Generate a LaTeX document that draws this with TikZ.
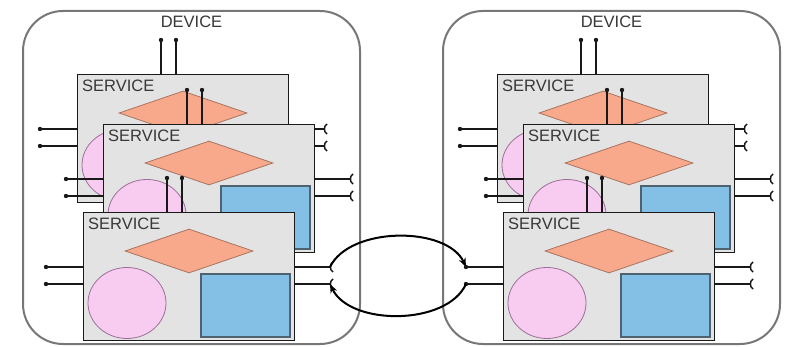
\documentclass[tikz,border=0pt]{standalone}
\usepackage{fontspec}
\setmainfont{Liberation Sans}
\usetikzlibrary{shapes.geometric,arrows.meta}

\definecolor{devline}{HTML}{777777}
\definecolor{txt}{HTML}{383838}
\definecolor{svcfill}{HTML}{E3E3E3}
\definecolor{svcline}{HTML}{1A1A1A}
\definecolor{rhombfill}{HTML}{F9A98B}
\definecolor{rhombline}{HTML}{A87460}
\definecolor{blobfill}{HTML}{F8CCF1}
\definecolor{blobline}{HTML}{9C6E98}
\definecolor{panelfill}{HTML}{84C0E6}
\definecolor{panelline}{HTML}{4F6270}

\tikzset{
  devbox/.style={draw=devline, line width=2pt, fill=white, rounded corners=40pt,
    minimum width=337pt, minimum height=333pt, inner sep=0pt},
  devlabel/.style={text=txt, font=\fontsize{16.5}{18}\selectfont, inner sep=0pt},
  svcbox/.style={draw=svcline, line width=1.4pt, fill=svcfill,
    minimum width=211pt, minimum height=128pt, inner sep=0pt},
  svclabel/.style={text=txt, font=\fontsize{16.5}{18}\selectfont, inner sep=0pt},
  rhomb/.style={diamond, draw=rhombline, line width=0.8pt, fill=rhombfill,
    minimum width=128pt, minimum height=44pt, inner sep=0pt},
  blob/.style={ellipse, draw=blobline, line width=0.8pt, fill=blobfill,
    minimum width=78pt, minimum height=71pt, inner sep=0pt},
  panel/.style={rectangle, draw=panelline, line width=1.1pt, fill=panelfill,
    minimum width=89pt, minimum height=63pt, inner sep=0pt},
  pin/.style={draw=black!90, line width=1.5pt},
  pindot/.style={fill=black!90},
  link/.style={draw=black, line width=2pt, -{Stealth[length=9pt,width=7pt]}},
  % one service: pins on three sides, a box, its label and three parts
  service/.pic={
    \foreach \px [count=\k] in {84,99} {
      \draw[pin] (\px,0) -- (\px,-34) coordinate (-t\k);
      \fill[pindot] (\px,-34) circle (2.2pt);
    }
    \foreach \py [count=\k] in {55,72} {
      \draw[pin] (0,\py) -- (-37,\py) coordinate (-l\k);
      \fill[pindot] (-37,\py) circle (2.2pt);
      \draw[pin] (211,\py) -- (247,\py) coordinate (-r\k);
      \draw[pin] (250,\py-5) .. controls (246.5,\py-3) and (246.5,\py+3) .. (250,\py+5);
    }
    \node[svcbox, anchor=north west] (-box) at (0,0) {};
    \node[svclabel, anchor=base west] (-label) at (5,18) {SERVICE};
    \node[rhomb] (-decide) at (106,39) {};
    \node[blob] (-store) at (44,91) {};
    \node[panel] (-panel) at (162.5,93.5) {};
  }
}

\begin{document}
\begin{tikzpicture}[x=1pt, y=-1pt]
  \useasboundingbox (0,0) rectangle (787,347);

  \foreach \side/\dx in {L/0, R/420} {
    \node[devbox] (\side-dev) at (191.5+\dx,177.5) {};
    \node[devlabel, anchor=base] (\side-devlabel) at (191.5+\dx,28) {DEVICE};
    \pic (\side1) at (77+\dx,74) {service};
    \pic (\side2) at (103+\dx,124) {service};
    \pic (\side3) at (83+\dx,212) {service};
  }

  % exchange between the two front services
  \draw[link] (L3-r1) .. controls (350,226) and (447,226) .. (R3-l1);
  \draw[link] (R3-l2) .. controls (447,326) and (350,326) .. (L3-r2);
\end{tikzpicture}
\end{document}
